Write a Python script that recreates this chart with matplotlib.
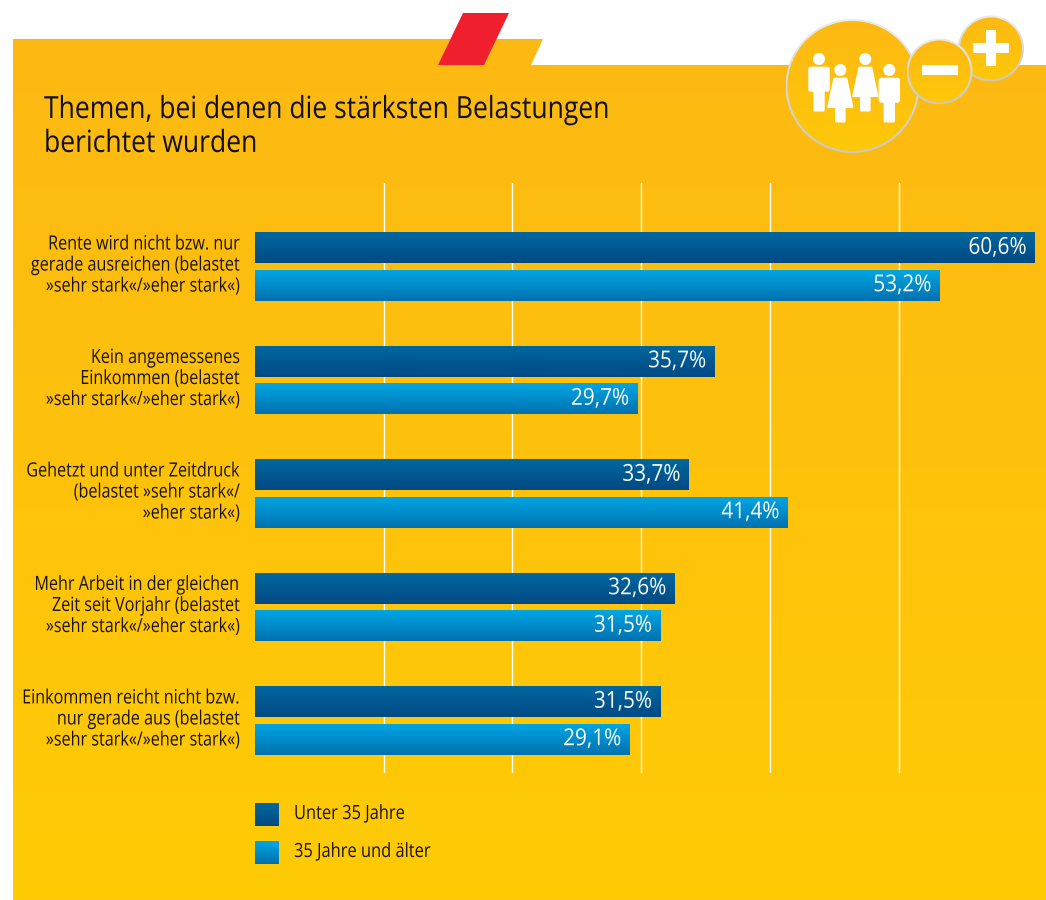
# -*- coding: utf-8 -*-
"""
Themen mit den staerksten Belastungen, nach Altersgruppe
"""
import numpy as np
import matplotlib.pyplot as plt
from matplotlib.colors import LinearSegmentedColormap
from matplotlib.patches import Circle, Polygon, Rectangle, FancyBboxPatch
from matplotlib.patheffects import AbstractPathEffect
from matplotlib.transforms import Affine2D

# Data
title = "Themen, bei denen die stärksten Belastungen\nberichtet wurden"
labels = ["Rente wird nicht bzw. nur\ngerade ausreichen (belastet\n»sehr stark«/»eher stark«)",
          "Kein angemessenes\nEinkommen (belastet\n»sehr stark«/»eher stark«)",
          "Gehetzt und unter Zeitdruck\n(belastet »sehr stark«/\n»eher stark«)",
          "Mehr Arbeit in der gleichen\nZeit seit Vorjahr (belastet\n»sehr stark«/»eher stark«)",
          "Einkommen reicht nicht bzw.\nnur gerade aus (belastet\n»sehr stark«/»eher stark«)"]
under_35 = [60.6, 35.7, 33.7, 32.6, 31.5]
over_35 = [53.2, 29.7, 41.4, 31.5, 29.1]
legend_labels = ["Unter 35 Jahre", "35 Jahre und älter"]
grid_ticks = [10, 20, 30, 40, 50]

W, H = 1046, 900
DARK = LinearSegmentedColormap.from_list("dark", ["#00679F", "#004A84"])
LIGHT = LinearSegmentedColormap.from_list("light", ["#00A6E4", "#0071AF"])
PAGE = LinearSegmentedColormap.from_list("page", ["#FDB913", "#FFCB05"])
DISC = LinearSegmentedColormap.from_list("disc", ["#FDB913", "#FFC80A"])
RIM = LinearSegmentedColormap.from_list("rim", ["#E9EAEB", "#C8C9CB"])
GRAD = np.linspace(0, 1, 64).reshape(-1, 1)
FONT = ["Open Sans", "DejaVu Sans"]


class Condense(AbstractPathEffect):
    """Squeeze text around a pixel x and stretch it upward, the source font is a condensed cut."""

    def __init__(self, k, x0, ky=1.0):
        super().__init__()
        self.k = k
        self.x0 = x0
        self.ky = ky

    def draw_path(self, renderer, gc, tpath, affine, rgbFace=None):
        tall = Affine2D().scale(1, self.ky)
        squeeze = Affine2D().translate(-self.x0, 0).scale(self.k, 1).translate(self.x0, 0)
        renderer.draw_path(gc, tpath, tall + affine + squeeze, rgbFace)


def fill(ax, patch, cmap, extent, zorder=1):
    """Paint a vertical gradient inside a patch."""
    ax.add_patch(patch)
    patch.set_visible(False)
    im = ax.imshow(GRAD, cmap=cmap, extent=extent, aspect="auto", zorder=zorder)
    im.set_clip_path(patch.get_path(), patch.get_transform())


fig = plt.figure(figsize=(W / 100, H / 100), dpi=100)

# Background in pixel coordinates, y pointing down
bg = fig.add_axes([0, 0, 1, 1])
bg.set_xlim(0, W)
bg.set_ylim(H, 0)
bg.axis("off")

page = Polygon([(13, 65), (13, 39), (543, 39), (531, 65), (W, 65), (W, H), (13, H)])
fill(bg, page, PAGE, (0, W, H, 39))
bg.add_patch(Polygon([(463, 13), (509, 13), (484, 65), (438, 65)], color="#EF1F2D", lw=0))


def disc(x, y, r, z):
    fill(bg, Circle((x, y), r), RIM, (x - r, x + r, y + r, y - r), zorder=z)
    fill(bg, Circle((x, y), r - 2), DISC, (x - r, x + r, y + r, y - r), zorder=z + 0.1)


disc(852.5, 86, 67, 2)
disc(991, 48.5, 33, 2.2)
disc(939.5, 71.5, 33, 2.4)
white = dict(fc="white", ec="none", zorder=4)
bg.add_patch(Rectangle((922, 65), 36, 10, **white))
bg.add_patch(Rectangle((973, 43.3), 36, 10, **white))
bg.add_patch(Rectangle((986, 30), 10, 36, **white))


def man(x, y):
    bg.add_patch(Circle((x, y), 6, **white))
    bg.add_patch(FancyBboxPatch((x - 9.7, y + 8.7), 19.4, 23, boxstyle="round,pad=1,rounding_size=2.5", **white))
    bg.add_patch(FancyBboxPatch((x - 5.2, y + 30), 10.4, 22, boxstyle="round,pad=0.5,rounding_size=1.5", **white))


def woman(x, y):
    bg.add_patch(Circle((x, y), 6, **white))
    bg.add_patch(Polygon([(x - 6, y + 8.7), (x + 6, y + 8.7), (x + 12, y + 37), (x - 12, y + 37)],
                         joinstyle="round", lw=1.5, fc="white", ec="white", zorder=4))
    bg.add_patch(FancyBboxPatch((x - 4.8, y + 36), 9.6, 16, boxstyle="round,pad=0.5,rounding_size=1.5", **white))


man(819, 59)
woman(865.3, 59)
woman(840.3, 70)
man(889.3, 70)

bg.text(44, 127, title, fontsize=22, family=FONT, color="#111111", va="center", ha="left",
        linespacing=1.17, path_effects=[Condense(0.868, 44)])

# Bars: axes spans pixel x 255..1035 and pixel y 183..773
chart = fig.add_axes([255 / W, 1 - 773 / H, 780 / W, 590 / H])
chart.patch.set_visible(False)
chart.set_xlim(0, 60.6)
chart.set_ylim(4.463, -0.736)
y = np.arange(len(labels))
height = 0.273
off = 0.165
dark_bars = chart.barh(y - off, under_35, height, color="none", zorder=3)
light_bars = chart.barh(y + off, over_35, height, color="none", zorder=3)

for bars, cmap, values in ((dark_bars, DARK, under_35), (light_bars, LIGHT, over_35)):
    for bar, value in zip(bars, values):
        y0, y1 = bar.get_y(), bar.get_y() + bar.get_height()
        chart.imshow(GRAD, cmap=cmap, extent=(0, value, y1, y0), aspect="auto", zorder=3)
        x_px = chart.transData.transform((value - 0.65, 0))[0]
        chart.text(value - 0.65, (y0 + y1) / 2, f"{value:.1f}%".replace(".", ","),
                   color="white", fontsize=16.8, family=FONT, ha="right", va="center",
                   zorder=4, path_effects=[Condense(0.89, x_px)])

chart.set_xticks(grid_ticks)
chart.set_xticklabels([])
chart.tick_params(axis="both", length=0)
chart.grid(axis="x", color="white", lw=1.0)
chart.set_axisbelow(True)
chart.set_yticks(y)
# laid out at 12.6 pt so the text stays inside the picture, drawn at the height of 14.1 pt
chart.set_yticklabels(labels, fontsize=12.6, family=FONT, color="#1A1400",
                      ha="right", va="center", linespacing=1.42)
for label in chart.get_yticklabels():
    label.set_path_effects([Condense(0.923, 240, ky=1.12)])
chart.tick_params(axis="y", pad=10.8)
for spine in chart.spines.values():
    spine.set_visible(False)

# Legend
for top, cmap, text in zip((803, 841), (DARK, LIGHT), legend_labels):
    bg.imshow(GRAD, cmap=cmap, extent=(255, 279, top + 23, top), aspect="auto", zorder=2)
    bg.text(294, top + 11, text, fontsize=14.1, family=FONT, color="#1A1400",
            va="center", ha="left", path_effects=[Condense(0.84, 294)])
bg.set_xlim(0, W)
bg.set_ylim(H, 0)

fig.savefig("out.png", dpi=100)
